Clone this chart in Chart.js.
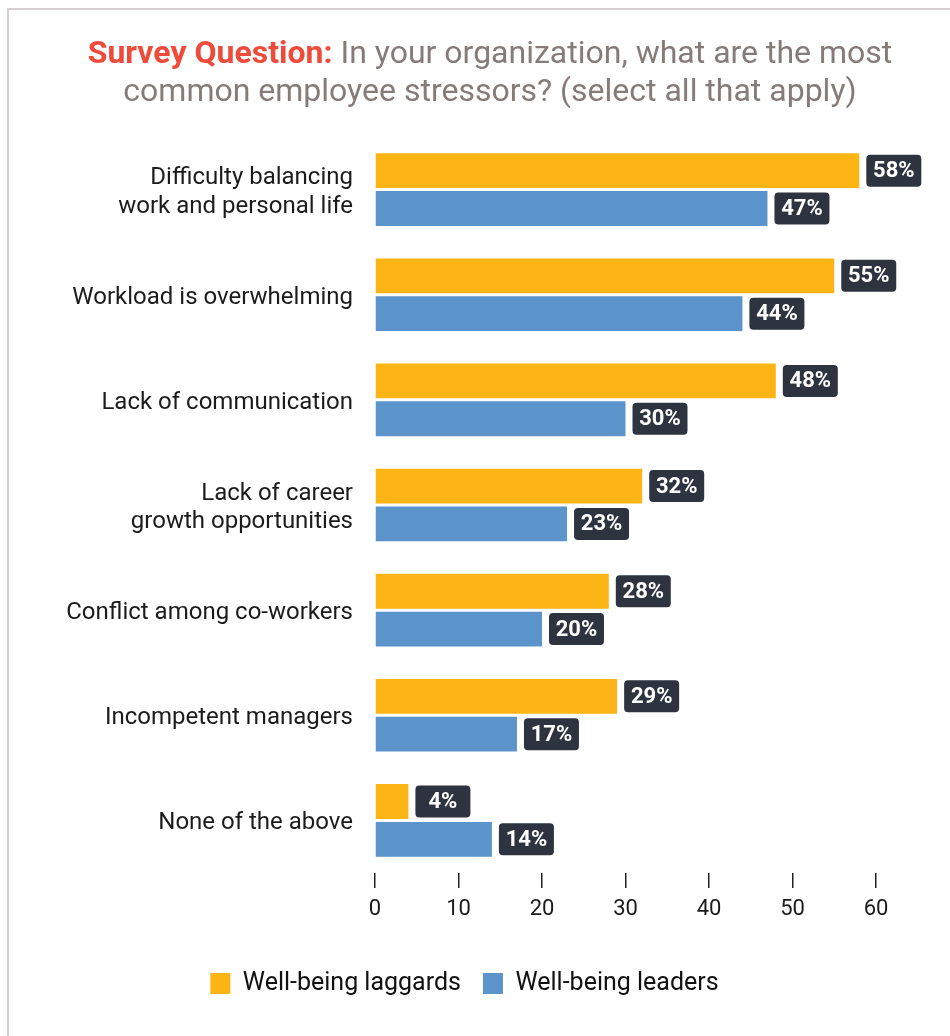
<!DOCTYPE html>
<html>
<head>
<meta charset="utf-8">
<title>Employee stressors</title>
<script src="https://cdn.jsdelivr.net/npm/chart.js@4/dist/chart.umd.min.js"></script>
<style>
  body { margin: 0; background: #fff; font-family: Roboto, sans-serif; }
  #marco {
    position: absolute; left: 7px; top: 8px; width: 1000px; height: 1100px;
    border-left: 2px solid #d8d0d0; border-top: 2px solid #d8d0d0;
  }
  #titulo {
    position: absolute; left: 0; top: 33px; width: 980px; text-align: center;
    font-size: 32px; line-height: 38px; color: #857b79; z-index: 2;
  }
  #titulo b { color: #ee4b3b; }
  #caja { position: absolute; left: 0; top: 0; width: 950px; height: 1036px; }
</style>
</head>
<body>
<div id="marco"></div>
<div id="titulo"><b>Survey Question:</b> In your organization, what are the most<br>common employee stressors? (select all that apply)</div>
<div id="caja"><canvas id="miGrafica" width="950" height="1036"></canvas></div>
<script>
// categorias (eje Y)
const categorias = [
  ["Difficulty balancing", "work and personal life"],
  "Workload is overwhelming",
  "Lack of communication",
  ["Lack of career", "growth opportunities"],
  "Conflict among co-workers",
  "Incompetent managers",
  "None of the above",
];
// datos en %
const laggards = [58, 55, 48, 32, 28, 29, 4];
const leaders = [47, 44, 30, 23, 20, 17, 14];
// eje X
const ticksX = [0, 10, 20, 30, 40, 50, 60];

// cajitas oscuras con el porcentaje
const etiquetasPct = {
  id: "etiquetasPct",
  afterDatasetsDraw(chart) {
    const ctx = chart.ctx;
    chart.data.datasets.forEach((ds, i) => {
      chart.getDatasetMeta(i).data.forEach((bar, j) => {
        const x = bar.x + 7;
        const y = bar.y;
        ctx.save();
        ctx.fillStyle = "#2d3440";
        ctx.beginPath();
        ctx.roundRect(x, y - 16, 55, 32, 4);
        ctx.fill();
        ctx.fillStyle = "#ffffff";
        ctx.font = "bold 22px Roboto";
        ctx.textAlign = "center";
        ctx.textBaseline = "middle";
        ctx.fillText(ds.data[j] + "%", x + 27.5, y + 1);
        ctx.restore();
      });
    });
  },
};

const ctx = document.getElementById("miGrafica").getContext("2d");
new Chart(ctx, {
  type: "bar",
  data: {
    labels: categorias,
    datasets: [
      {
        label: "Well-being laggards",
        data: laggards,
        backgroundColor: "#fdb515",
        barPercentage: 0.92,
        categoryPercentage: 0.72,
      },
      {
        label: "Well-being leaders",
        data: leaders,
        backgroundColor: "#5b93cb",
        barPercentage: 0.92,
        categoryPercentage: 0.72,
      },
    ],
  },
  options: {
    indexAxis: "y",
    responsive: false,
    animation: false,
    layout: { padding: { left: 53, right: 74, top: 137, bottom: 30 } },
    scales: {
      x: {
        min: 0,
        max: 60,
        afterBuildTicks: (scale) => {
          scale.ticks = ticksX.map((v) => ({ value: v }));
        },
        afterFit: (scale) => {
          scale.height = 76;
        },
        border: { display: false },
        grid: {
          drawOnChartArea: false,
          drawTicks: true,
          tickLength: 15,
          color: "#222",
          lineWidth: 1.5,
        },
        ticks: {
          padding: 8,
          color: "#1b1b1b",
          font: { family: "Roboto", size: 22 },
        },
      },
      y: {
        afterFit: (scale) => {
          scale.width = 322;
        },
        border: { display: false },
        grid: { display: false },
        ticks: {
          padding: 14,
          labelOffset: 3,
          color: "#1b1b1b",
          font: { family: "Roboto", size: 24, lineHeight: 1.2 },
        },
      },
    },
    plugins: {
      tooltip: { enabled: false },
      legend: {
        position: "bottom",
        labels: {
          boxWidth: 20,
          boxHeight: 21,
          padding: 22,
          color: "#111",
          font: { family: "Roboto", size: 25 },
        },
      },
    },
  },
  plugins: [etiquetasPct],
});
</script>
</body>
</html>
